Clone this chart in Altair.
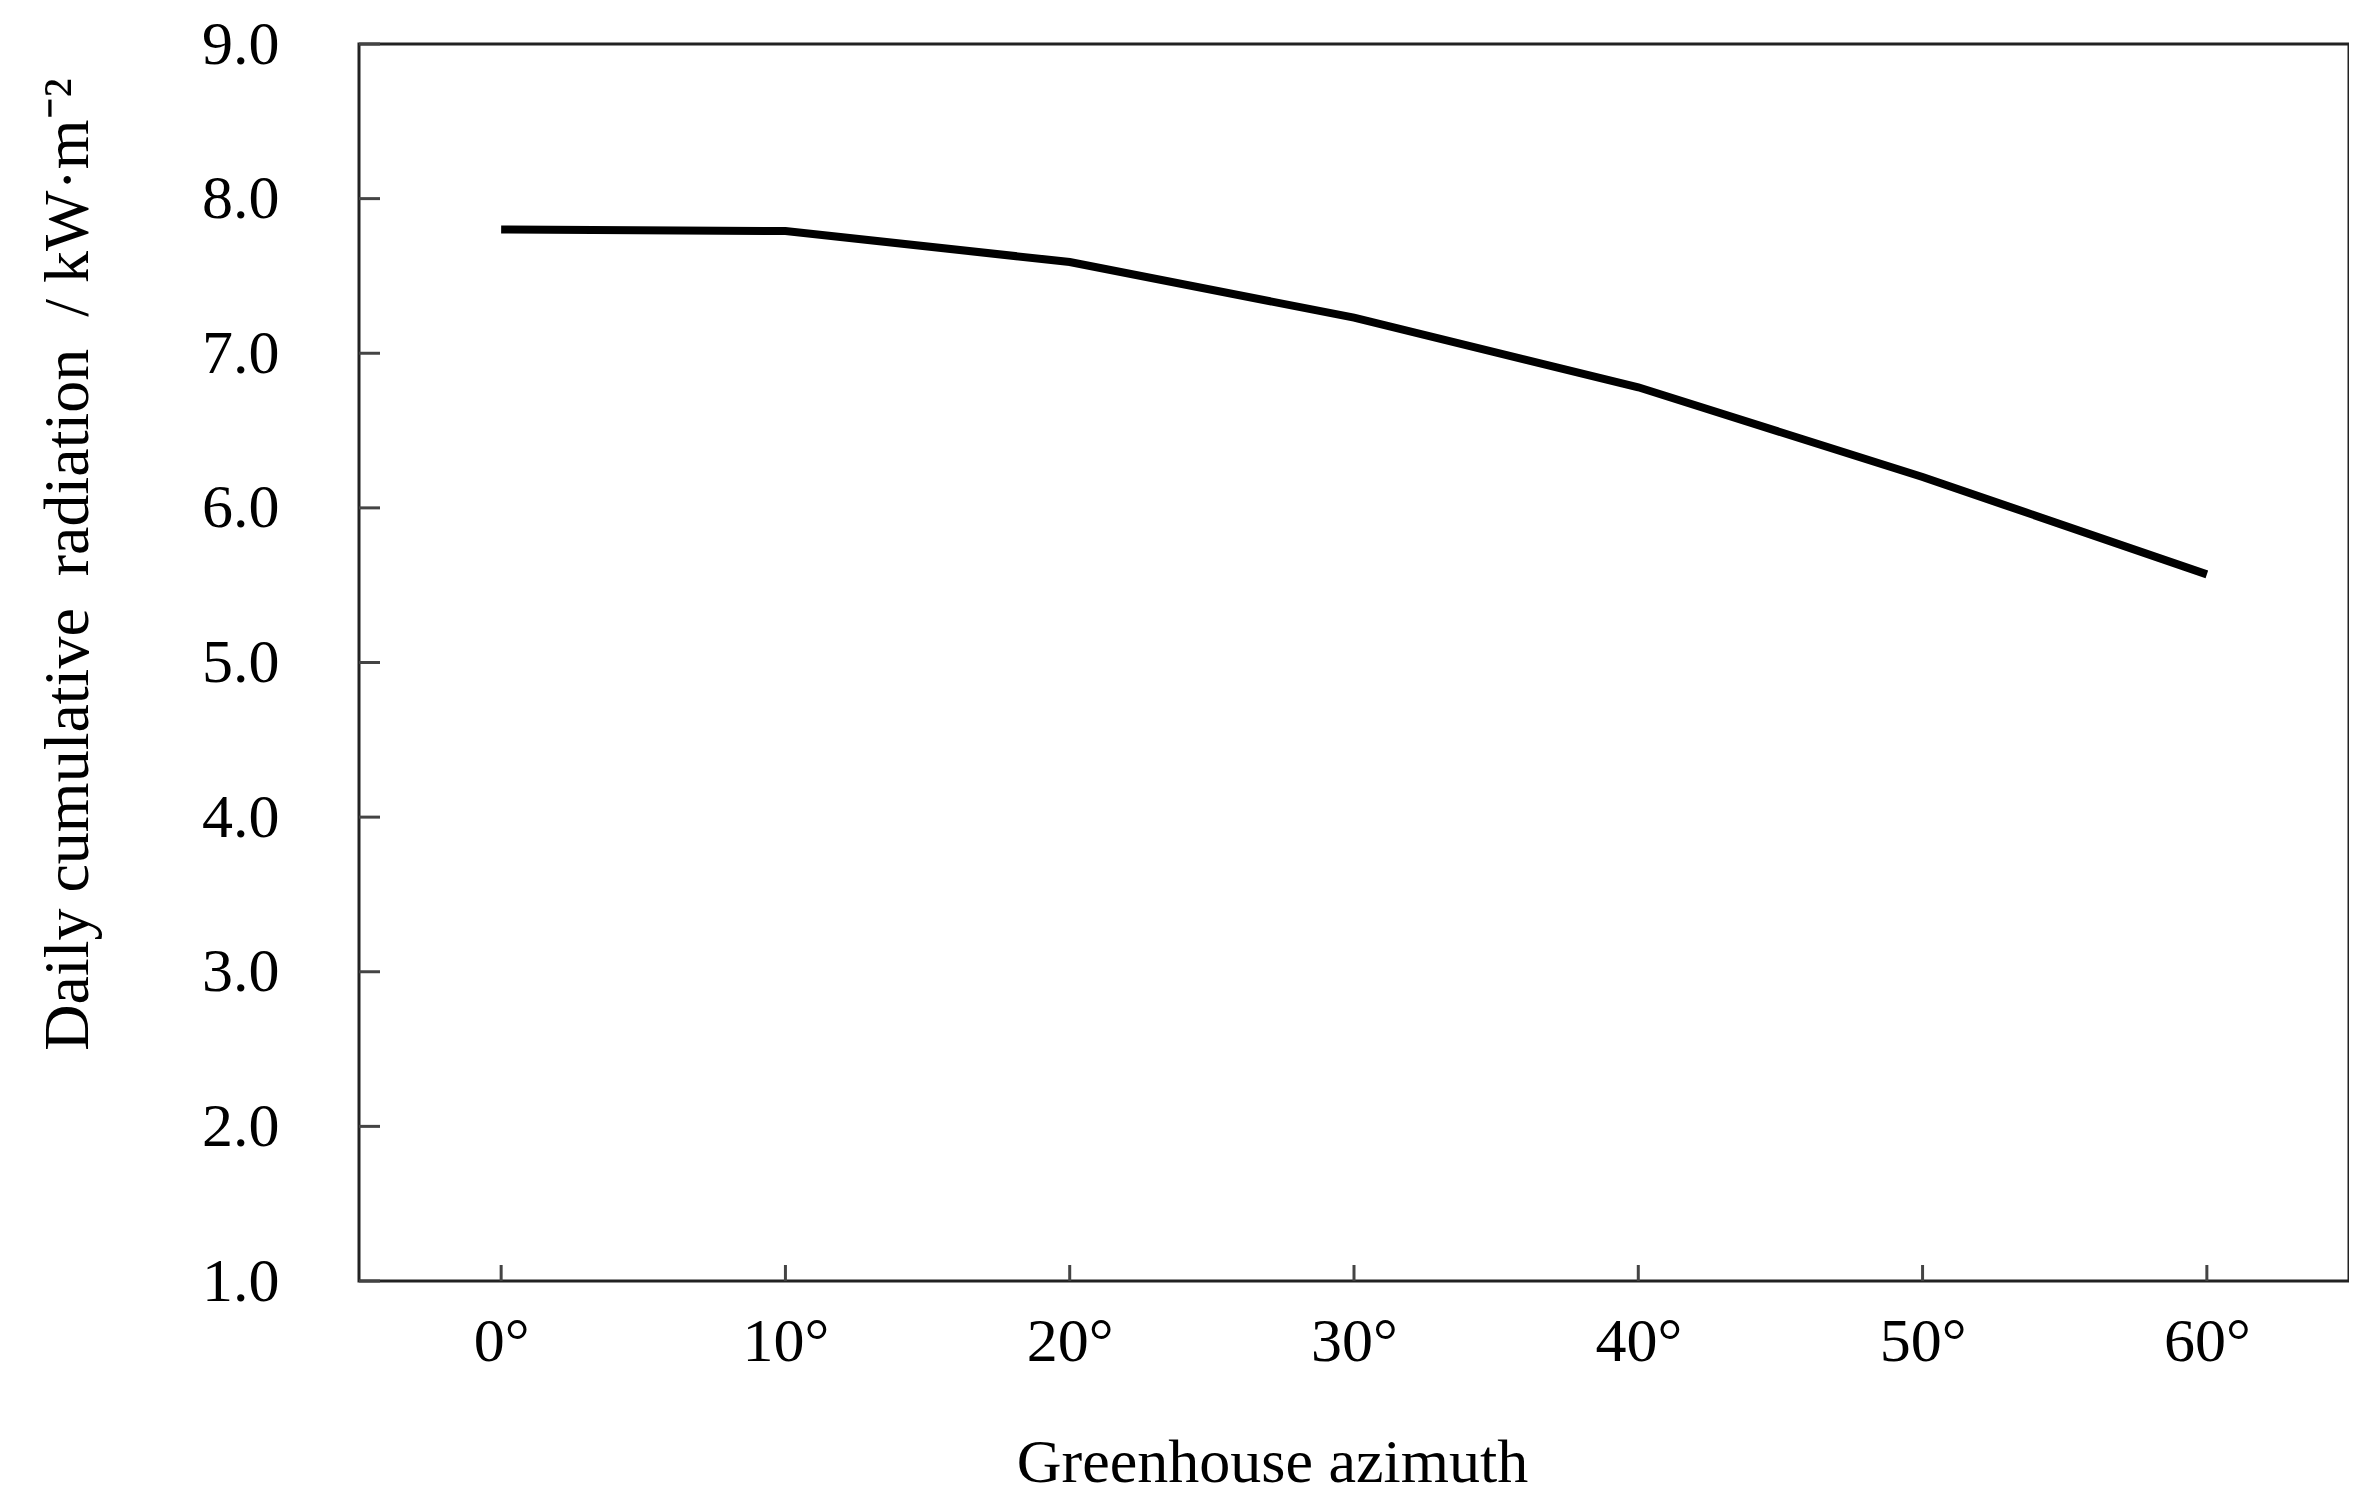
import altair as alt
import pandas as pd

azimuth = [0, 10, 20, 30, 40, 50, 60]
radiation = [7.80, 7.79, 7.59, 7.23, 6.78, 6.20, 5.57]
x_ticks = [0, 10, 20, 30, 40, 50, 60]
y_ticks = [1, 2, 3, 4, 5, 6, 7, 8, 9]

W, H = 1990, 1237
FONT = "Liberation Serif"

df = pd.DataFrame({"azimuth": azimuth, "radiation": radiation})
xt = pd.DataFrame({"x": x_ticks})
yt = pd.DataFrame({"y": y_ticks})

xscale = alt.Scale(domain=[-5, 65], nice=False, zero=False)
yscale = alt.Scale(domain=[1, 9], nice=False, zero=False)

line = alt.Chart(df).mark_line(color="black", strokeWidth=8).encode(
    x=alt.X("azimuth:Q", scale=xscale,
            axis=alt.Axis(values=x_ticks, labelExpr="datum.value + '°'",
                          title="Greenhouse azimuth", tickSize=0, domain=False, grid=False,
                          labelPadding=30, labelFontSize=62, labelFont=FONT, labelColor="black",
                          titleFont=FONT, titleFontSize=62, titleFontWeight="normal", titleColor="black",
                          titleX=913, titleY=200, titleAlign="center", titleBaseline="alphabetic",
                          titleAnchor="start")),
    y=alt.Y("radiation:Q", scale=yscale,
            axis=alt.Axis(values=y_ticks, format=".1f",
                          title="Daily cumulative\u00a0 radiation\u00a0 / kW·m⁻²", tickSize=0, domain=False, grid=False,
                          labelPadding=80, labelFontSize=62, labelFont=FONT, labelColor="black",
                          titleFont=FONT, titleFontSize=64, titleFontWeight="normal", titleColor="black",
                          titleX=-291, titleY=520, titleAngle=-90, titleAlign="center",
                          titleBaseline="middle", titleAnchor="start")),
)

ytick_rules = alt.Chart(yt).mark_rule(color="#444", strokeWidth=3).encode(
    y=alt.Y("y:Q", scale=yscale),
    x=alt.value(0),
    x2=alt.value(21),
)

xtick_rules = alt.Chart(xt).mark_rule(color="#444", strokeWidth=3).encode(
    x=alt.X("x:Q", scale=xscale),
    y=alt.value(H),
    y2=alt.value(H - 16),
)

chart = alt.layer(ytick_rules, xtick_rules, line).properties(
    width=W, height=H,
    background="white",
    autosize=alt.AutoSizeParams(type="none"),
    padding={"left": 351, "top": 36, "right": 0, "bottom": 215},
).configure_view(stroke="#222", strokeWidth=3)

chart.save("out.html", embed_options={"renderer": "svg", "actions": False})
